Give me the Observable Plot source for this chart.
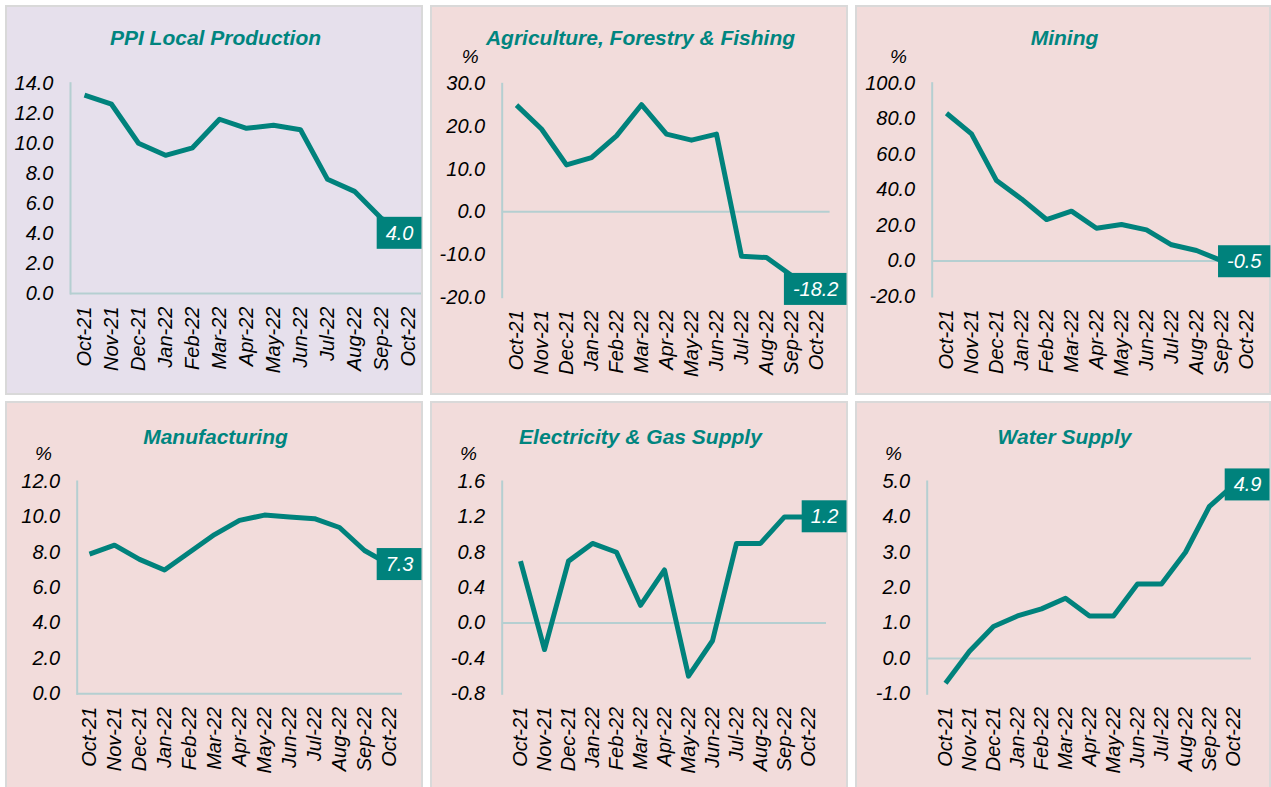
<!DOCTYPE html>
<html><head><meta charset="utf-8">
<script src="https://cdn.jsdelivr.net/npm/d3@7"></script>
<script src="https://cdn.jsdelivr.net/npm/@observablehq/plot@0.6"></script>
<style>
html,body{margin:0;padding:0;background:#fff}
body{width:1271px;height:787px;overflow:hidden;position:relative;font-family:"Liberation Sans",Arial,sans-serif}
.panel{position:absolute;box-sizing:border-box;border:2px solid #D9D9D9;overflow:visible}
.panel svg{position:absolute;left:0;top:0;overflow:visible}
.title{position:absolute;left:0;right:0;text-align:center;font-weight:bold;font-style:italic;color:#00857F;font-size:21px;line-height:21px;white-space:nowrap}
.pct{position:absolute;font-style:italic;font-size:19px;line-height:19px;color:#000}
</style></head>
<body>
<script>
const months = ["Oct-21","Nov-21","Dec-21","Jan-22","Feb-22","Mar-22","Apr-22","May-22","Jun-22","Jul-22","Aug-22","Sep-22","Oct-22"];
const titles = ["PPI Local Production","Agriculture, Forestry & Fishing","Mining","Manufacturing","Electricity & Gas Supply","Water Supply"];

const ppiLocal      = [13.2,12.6,10.0,9.2,9.7,11.6,11.0,11.2,10.9,7.6,6.8,5.0,4.0];
const agriculture   = [25.0,19.4,11.0,12.7,17.8,25.1,18.2,16.8,18.2,-10.4,-10.7,-14.9,-18.2];
const mining        = [83.1,71.5,45.2,34.9,23.3,28.0,18.4,20.5,17.5,9.1,5.9,0.2,-0.5];
const manufacturing = [7.9,8.4,7.6,7.0,8.0,9.0,9.8,10.1,10.0,9.9,9.4,8.1,7.3];
const electricity   = [0.7,-0.3,0.7,0.9,0.8,0.2,0.6,-0.6,-0.2,0.9,0.9,1.2,1.2];
const water         = [-0.7,0.2,0.9,1.2,1.4,1.7,1.2,1.2,2.1,2.1,3.0,4.3,4.9];

const ppiTicks   = [0,2,4,6,8,10,12,14];
const agriTicks  = [-20,-10,0,10,20,30];
const miningTicks= [-20,0,20,40,60,80,100];
const manuTicks  = [0,2,4,6,8,10,12];
const elecTicks  = [-0.8,-0.4,0,0.4,0.8,1.2,1.6];
const waterTicks = [-1,0,1,2,3,4,5];

const series = [ppiLocal, agriculture, mining, manufacturing, electricity, water];
const tickSets = [ppiTicks, agriTicks, miningTicks, manuTicks, elecTicks, waterTicks];

const TEAL = "#00827C";
const AXIS = "#B5CFD1";

// layout (page pixels)
const layout = [
  {left:5,   top:5,   w:418, h:390, bg:"#E6E0EC", axisX:70,    frameRight:421,  yTop:82.7, yBot:293,   titleBase:44.5,  pct:null},
  {left:430, top:5,   w:418, h:390, bg:"#F2DCDB", axisX:501.7, frameRight:829.6,yTop:83.3, yBot:296.7, titleBase:44.3,  pct:[461.7,63]},
  {left:855, top:5,   w:416, h:390, bg:"#F2DCDB", axisX:931.7, frameRight:1260, yTop:82.7, yBot:296,   titleBase:44.3,  pct:[890,63]},
  {left:5,   top:401, w:418, h:390, bg:"#F2DCDB", axisX:76.7,  frameRight:402,  yTop:481,  yBot:693.3, titleBase:443.3, pct:[35,460]},
  {left:430, top:401, w:418, h:390, bg:"#F2DCDB", axisX:501.7, frameRight:826,  yTop:481,  yBot:693.3, titleBase:443.3, pct:[460,460]},
  {left:855, top:401, w:416, h:390, bg:"#F2DCDB", axisX:926.7, frameRight:1251, yTop:481,  yBot:693.3, titleBase:443.3, pct:[885,460]}
];

const NS = "http://www.w3.org/2000/svg";

layout.forEach((L, i) => {
  const values = series[i];
  const ticks = tickSets[i];
  const data = months.map((m, j) => ({month: m, value: values[j]}));
  const last = data[data.length - 1];
  const labelText = last.value.toFixed(1);

  const div = document.createElement("div");
  div.className = "panel";
  Object.assign(div.style, {left: L.left + "px", top: L.top + "px", width: L.w + "px", height: L.h + "px", background: L.bg});
  document.body.appendChild(div);

  const innerL = L.left + 2, innerT = L.top + 2, innerW = L.w - 4, innerH = L.h - 4;
  const mL = L.axisX - innerL, mR = innerL + innerW - L.frameRight;
  const mT = L.yTop - innerT, mB = innerT + innerH - L.yBot;

  const plot = Plot.plot({
    width: innerW, height: innerH,
    marginLeft: mL, marginRight: mR, marginTop: mT, marginBottom: mB,
    style: {fontFamily: '"Liberation Sans", Arial, sans-serif', fontSize: "20px", fontStyle: "italic", color: "#000", background: "transparent", overflow: "visible"},
    x: {domain: months, type: "point", padding: 0.5, tickRotate: -90, tickSize: 0, tickPadding: 13, label: null},
    y: {domain: [ticks[0], ticks[ticks.length - 1]], ticks: ticks, tickFormat: d => d.toFixed(1), tickSize: 0, tickPadding: 17, label: null},
    marks: [
      Plot.frame({anchor: "left", stroke: AXIS, strokeWidth: 2}),
      Plot.ruleY([0], {stroke: AXIS, strokeWidth: 2}),
      Plot.line(data, {x: "month", y: "value", stroke: TEAL, strokeWidth: 5, strokeLinejoin: "round", strokeLinecap: "butt"}),
      Plot.text([last], {y: "value", text: d => d.value.toFixed(1), frameAnchor: "right", textAnchor: "end", dx: mR - 8, fill: "white", fontSize: 20, fontStyle: "italic"})
    ]
  });
  div.appendChild(plot);

  // teal box behind the end label
  const texts = Array.from(plot.querySelectorAll("text")).filter(t => {
    const g = t.closest("g");
    return t.textContent === labelText && g && g.getAttribute("fill") === "white";
  });
  texts.forEach(t => {
    const bb = t.getBBox();
    const r = document.createElementNS(NS, "rect");
    r.setAttribute("x", bb.x - 9);
    r.setAttribute("width", bb.width + 17);
    r.setAttribute("y", bb.y + bb.height / 2 - 16);
    r.setAttribute("height", 32);
    r.setAttribute("fill", TEAL);
    if (t.getAttribute("transform")) r.setAttribute("transform", t.getAttribute("transform"));
    t.parentNode.insertBefore(r, t);
  });

  const title = document.createElement("div");
  title.className = "title";
  title.textContent = titles[i];
  title.style.top = (L.titleBase - innerT - 17.8) + "px";
  title.style.left = "3px";
  div.appendChild(title);

  if (L.pct) {
    const p = document.createElement("div");
    p.className = "pct";
    p.textContent = "%";
    p.style.left = (L.pct[0] - innerL) + "px";
    p.style.top = (L.pct[1] - innerT - 16) + "px";
    div.appendChild(p);
  }
});
</script>
</body></html>
